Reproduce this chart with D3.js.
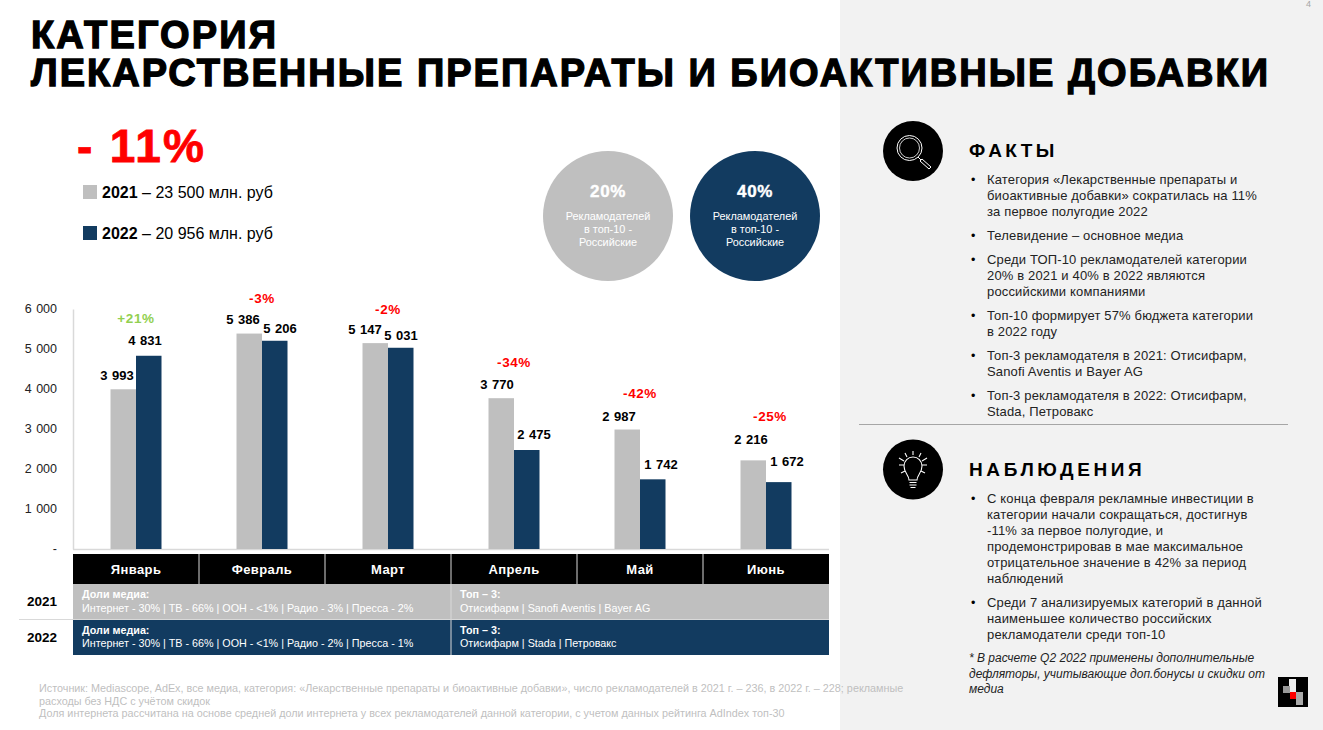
<!DOCTYPE html>
<html><head><meta charset="utf-8">
<script src="https://cdn.jsdelivr.net/npm/d3@7/dist/d3.min.js"></script>
<style>html,body{margin:0;padding:0;background:#fff}svg{display:block}text{font-family:"Liberation Sans",Arial,sans-serif}</style>
</head><body><div id="c"></div>
<script>
const months=["Январь","Февраль","Март","Апрель","Май","Июнь"];
const values2021=[3993,5386,5147,3770,2987,2216];
const values2022=[4831,5206,5031,2475,1742,1672];
const changes=["+21%","-3%","-2%","-34%","-42%","-25%"];
const yTicks=[0,1000,2000,3000,4000,5000,6000];
const titleLines=["КАТЕГОРИЯ","ЛЕКАРСТВЕННЫЕ ПРЕПАРАТЫ И БИОАКТИВНЫЕ ДОБАВКИ"];
const facts=[["Категория «Лекарственные препараты и","биоактивные добавки» сократилась на 11%","за первое полугодие 2022"],["Телевидение – основное медиа"],["Среди ТОП-10 рекламодателей категории","20% в 2021 и 40% в 2022 являются","российскими компаниями"],["Топ-10 формирует 57% бюджета категории","в 2022 году"],["Топ-3 рекламодателя в 2021: Отисифарм,","Sanofi Aventis и Bayer AG"],["Топ-3 рекламодателя в 2022: Отисифарм,","Stada, Петровакс"]];
const obs=[["С конца февраля рекламные инвестиции в","категории начали сокращаться, достигнув","-11% за первое полугодие, и","продемонстрировав в мае максимальное","отрицательное значение в 42% за период","наблюдений"],["Среди 7 анализируемых категорий в данной","наименьшее количество российских","рекламодатели среди топ-10"]];
const note=["* В расчете Q2 2022 применены дополнительные","дефляторы, учитывающие доп.бонусы и скидки от","медиа"];
const source=["Источник: Mediascope, AdEx, все медиа, категория: «Лекарственные препараты и биоактивные добавки», число рекламодателей в 2021 г. – 236, в 2022 г. – 228; рекламные","расходы без НДС с учётом скидок","Доля интернета рассчитана на основе средней доли интернета у всех рекламодателей данной категории, с учетом данных рейтинга AdIndex топ-30"];
const media=[["Доли медиа:","Интернет - 30% | ТВ - 66% | ООН - <1% | Радио - 3% | Пресса - 2%"],["Доли медиа:","Интернет - 30% | ТВ - 66% | ООН - <1% | Радио - 2% | Пресса - 1%"]];
const top3=[["Топ – 3:","Отисифарм | Sanofi Aventis | Bayer AG"],["Топ – 3:","Отисифарм | Stada | Петровакс"]];
const GRAY="#bfbfbf",NAVY="#123b60";
const svg=d3.select("#c").append("svg").attr("width",1323).attr("height",730);
function T(x,y,s,o={}){const t=svg.append("text").attr("x",x).attr("y",y).text(s)
 .attr("font-size",o.size||12).attr("fill",o.fill||"#000").attr("font-weight",o.w||"normal").attr("text-anchor",o.a||"start");
 if(o.i)t.attr("font-style","italic");if(o.ls)t.attr("letter-spacing",o.ls);
 if(o.sw)t.attr("stroke",o.fill||"#000").attr("stroke-width",o.sw);if(o.len)t.attr("textLength",o.len).attr("lengthAdjust","spacing");return t;}
svg.append("rect").attr("x",840).attr("y",0).attr("width",483).attr("height",730).attr("fill","#f2f2f2");
T(1311,7,"4",{size:9,fill:"#a6a6a6",a:"end"});
T(31,48,titleLines[0],{size:38,w:"bold",sw:1.3,len:245});
T(31,86,titleLines[1],{size:38,w:"bold",sw:1.3,len:1237});
T(77,162,"- 11%",{size:46,w:"bold",fill:"#ff0000",sw:.8,len:127});
[[2021,"2021"," – 23 500 млн. руб",198,GRAY],[2022,"2022"," – 20 956 млн. руб",239,NAVY]].forEach(d=>{
 svg.append("rect").attr("x",83).attr("y",d[3]-13).attr("width",14).attr("height",14).attr("fill",d[4]);
 const t=T(102,d[3],"",{size:16});t.append("tspan").attr("font-weight","bold").text(d[1]);t.append("tspan").text(d[2]);});
[[608,GRAY,"20%"],[755,NAVY,"40%"]].forEach(d=>{
 svg.append("circle").attr("cx",d[0]).attr("cy",216).attr("r",65).attr("fill",d[1]);
 T(d[0],197,d[2],{size:17,w:"bold",fill:"#fff",a:"middle",sw:.4,ls:.6});
 ["Рекламодателей","в топ-10 -","Российские"].forEach((s,i)=>T(d[0],220+i*13,s,{size:10.9,fill:"#fff",a:"middle"}));
});
const x=d3.scaleBand().domain(months).range([73,829]);
const y=d3.scaleLinear().domain([0,6000]).range([549,309]);
const x2=d3.scaleBand().domain([0,1]).range([0,51]);
const fmt=v=>v===0?"-":d3.format(",")(v).replace(",","\u00a0");
const ax=svg.append("g").attr("transform","translate(73,-1)").call(d3.axisLeft(y).tickValues(yTicks).tickSize(0).tickPadding(16).tickFormat(fmt));
ax.selectAll("text").attr("font-size",12.5).attr("fill","#222").attr("word-spacing",1).style("font-family",'"Liberation Sans"');
ax.select(".domain").attr("transform","translate(0,1)").attr("stroke","#d9d9d9").attr("stroke-width",1.5);
svg.append("line").attr("x1",73).attr("x2",829).attr("y1",549.5).attr("y2",549.5).attr("stroke","#d9d9d9").attr("stroke-width",1.5);
const mg=svg.selectAll(".m").data(months).join("g").attr("class","m").attr("transform",d=>`translate(${x(d)+x.bandwidth()/2},0)`);
[values2021,values2022].forEach((vals,k)=>{
 mg.append("rect").attr("x",x2(k)-25.5).attr("width",x2.bandwidth()).attr("y",(d,i)=>y(vals[i])).attr("height",(d,i)=>549-y(vals[i])).attr("fill",k?NAVY:GRAY);
});
const lab21x=[-19,-19,-23,-17,-21,-15],lab22x=[9,18,13,20,21,21];
const lab21y=[380,324,334,389,421,444],lab22y=[345,333,340,439,469,466];
[[values2021,lab21x,lab21y],[values2022,lab22x,lab22y]].forEach(s=>{
 mg.append("text").attr("x",(d,i)=>s[1][i]).attr("y",(d,i)=>s[2][i]).attr("text-anchor","middle").attr("font-size",13).attr("word-spacing",1).attr("font-weight","bold").text((d,i)=>fmt(s[0][i]));
});
const chY=[323,303,314,367,398,421],chX=[0,0,0,0,0,4];
mg.append("text").attr("x",(d,i)=>chX[i]).attr("y",(d,i)=>chY[i]).attr("text-anchor","middle").attr("font-size",13.5).attr("letter-spacing",.6).attr("font-weight","bold").attr("fill",(d,i)=>i==0?"#92d050":"#ff0000").text((d,i)=>changes[i]);
svg.append("rect").attr("x",73).attr("y",554).attr("width",756).attr("height",30).attr("fill","#000");
months.forEach((m,i)=>{if(i)svg.append("line").attr("x1",x(m)).attr("x2",x(m)).attr("y1",554).attr("y2",584).attr("stroke","#d9d9d9");
 T(x(m)+x.bandwidth()/2,574,m,{size:13,w:"bold",fill:"#fff",a:"middle",ls:.4});});
[[584,35,GRAY,"2021",606],[620,35,NAVY,"2022",642]].forEach((r,k)=>{
 svg.append("rect").attr("x",73).attr("y",r[0]).attr("width",756).attr("height",r[1]).attr("fill",r[2]);
 svg.append("line").attr("x1",451).attr("x2",451).attr("y1",r[0]).attr("y2",r[0]+r[1]).attr("stroke","#d9d9d9");
 T(42,r[4],r[3],{size:13.5,w:"bold",a:"middle"});
 T(82,r[0]+14,media[k][0],{size:10.75,w:"bold",fill:"#fff"});
 T(82,r[0]+28-k,media[k][1],{size:10.75,fill:"#fff"});
 T(460,r[0]+14,top3[k][0],{size:10.75,w:"bold",fill:"#fff"});
 T(460,r[0]+28-k,top3[k][1],{size:10.75,fill:"#fff"});
});
svg.append("line").attr("x1",19).attr("x2",829).attr("y1",619.5).attr("y2",619.5).attr("stroke","#d9d9d9");
source.forEach((s,i)=>T(39,692+i*12.5,s,{size:10.8,fill:"#bfbfbf"}));
function bullets(list,ys,lh){list.forEach((b,i)=>{T(971,ys[i],"•",{size:12.5});b.forEach((s,j)=>T(987,ys[i]+j*lh,s,{size:13,fill:"#222",ls:.15}));});}
T(969,157,"ФАКТЫ",{size:19,w:"bold",ls:3.4});
bullets(facts,[184,240,264,320,360,400],16);
T(969,476,"НАБЛЮДЕНИЯ",{size:19,w:"bold",ls:3.6});
bullets(obs,[503,607],16);
svg.append("line").attr("x1",859).attr("x2",1288).attr("y1",424.5).attr("y2",424.5).attr("stroke","#a6a6a6");
note.forEach((s,i)=>T(969,662+i*15.5,s,{size:12,i:1,fill:"#222"}));
svg.append("circle").attr("cx",913).attr("cy",151).attr("r",30).attr("fill","#000");
svg.append("circle").attr("cx",909.500).attr("cy",148).attr("r",12.5).attr("fill","none").attr("stroke","#fff").attr("stroke-width",1);
svg.append("circle").attr("cx",909.500).attr("cy",148).attr("r",10).attr("fill","none").attr("stroke","#fff").attr("stroke-width",.8);
svg.append("path").attr("d","M918 157l3 3M920 161l2-2 9 8-2 2z").attr("fill","none").attr("stroke","#fff").attr("stroke-width",1);
svg.append("circle").attr("cx",913).attr("cy",469.5).attr("r",30).attr("fill","#000");
svg.append("path").attr("d","M909 480c0-5-5-7-5-14a9 9 0 0 1 18 0c0 7-5 9-5 14z").attr("fill","none").attr("stroke","#fff").attr("stroke-width",1.1);
svg.append("path").attr("d","M909.500 482.500h7M909.500 485h7M910.500 487.500h5M913 451v4M905 453l2 4M921 453l-2 4M899 458l5 3M927 458l-5 3M899 465h5M927 465h-5M901 473l4-2M925 473l-4-2").attr("fill","none").attr("stroke","#fff").attr("stroke-width",1.1);
svg.append("rect").attr("x",1278).attr("y",677).attr("width",30).attr("height",30).attr("fill","#000");
svg.append("rect").attr("x",1289).attr("y",679).attr("width",7).attr("height",14).attr("fill","#eee");
svg.append("rect").attr("x",1283).attr("y",686).attr("width",7).attr("height",7).attr("fill","#999");
svg.append("rect").attr("x",1290).attr("y",692).attr("width",7).attr("height",7).attr("fill","#f00");
svg.append("rect").attr("x",1296).attr("y",692).attr("width",7).attr("height",13).attr("fill","#aaa");
</script></body></html>
